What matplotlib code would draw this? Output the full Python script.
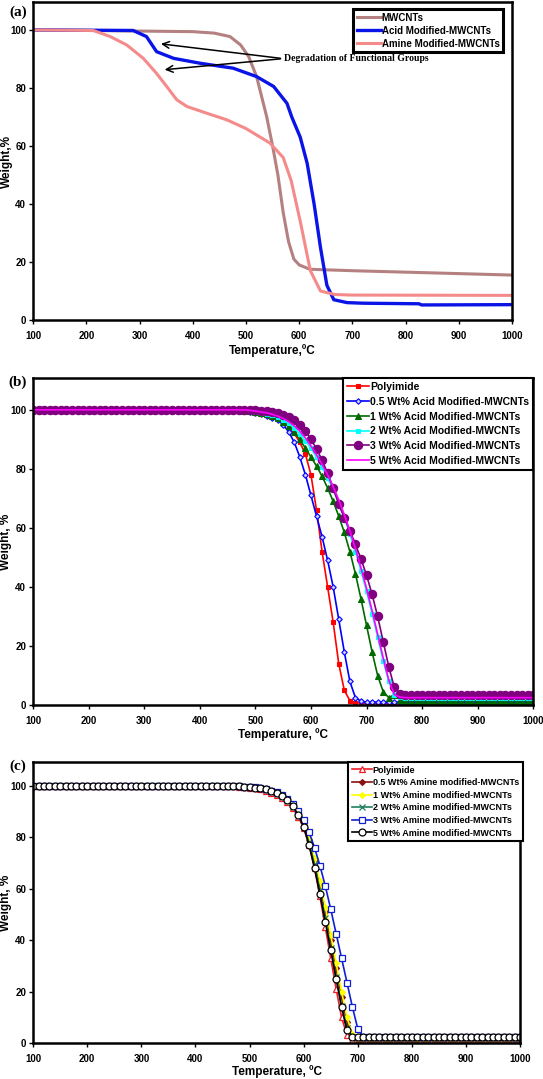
import matplotlib
matplotlib.use('Agg')
import matplotlib.pyplot as plt

plt.rcParams['font.family'] = ['Liberation Sans', 'DejaVu Sans']
plt.rcParams['font.weight'] = 'bold'

# ---------------------------------------------------------------- panel (a)
mwcnt_temp = [100, 400, 440, 470, 490, 505, 520, 539, 550, 560, 570, 580, 590, 600, 620, 700, 800, 900, 1000]
mwcnt_wt = [100, 99.4, 98.9, 97.7, 94.8, 90.8, 83.9, 70, 60, 50, 37, 27, 21, 19, 17.5, 17, 16.5, 16, 15.5]

acid_temp = [100, 288, 313, 332, 364, 414, 476, 520, 552, 577, 586, 602, 615, 628, 640, 652, 665, 690, 720, 825, 830, 1000]
acid_wt = [100, 99.8, 97.7, 92.5, 90.2, 88.5, 86.8, 83.9, 80.5, 74.7, 70, 63, 54, 40, 25, 12, 7, 6, 5.8, 5.6, 5.2, 5.3]

amine_temp = [100, 213, 245, 276, 307, 332, 351, 370, 389, 426, 464, 500, 545, 570, 585, 602, 621, 640, 667, 700, 1000]
amine_wt = [100, 99.8, 97.7, 94.8, 90.2, 85, 80.5, 75.9, 73.6, 71.3, 69, 66, 61, 56, 48, 34, 17, 10, 8.8, 8.6, 8.5]

# ---------------------------------------------------------------- panels (b), (c): one point every 10 C
temp_grid = list(range(100, 1001, 10))

pi_b = [100.0] * 36 + [99.9, 99.8, 99.6, 99.3, 99.0, 98.7, 98.3, 97.8, 97.0, 96.0,
                       94.2, 92.0, 89.0, 85.0, 78.0, 66.0, 52.0, 40.0, 28.0, 14.0,
                       5.0, 1.5, 0.8, 0.6] + [0.5] * 31
acid05_b = [100.0] * 36 + [99.9, 99.8, 99.6, 99.3, 99.0, 98.6, 98.0, 97.4, 96.5, 95.0,
                           92.5, 89.0, 84.0, 78.0, 71.0, 64.0, 57.0, 49.0, 40.0, 29.0,
                           18.0, 8.0, 2.5, 1.3] + [1.0] * 31
acid1_b = [100.0] * 36 + [99.9, 99.8, 99.7, 99.5, 99.2, 98.9, 98.5, 98.0, 97.2, 96.0,
                          94.5, 92.5, 90.0, 87.0, 84.0, 81.0, 77.5, 73.5, 69.0, 64.0,
                          58.5, 52.0, 44.5, 36.0] + [27.0, 18.0, 10.0, 4.5, 2.5, 3.5, 1.8] + [1.5] * 24
acid2_b = [100.0] * 38 + [99.8, 99.6, 99.4, 99.1, 98.7, 98.2, 97.5, 96.6, 95.4, 93.8,
                          91.8, 89.5, 87.0, 84.0, 80.5, 77.0, 73.0, 68.5, 63.5, 58.0,
                          52.0, 45.5, 38.5, 31.0, 23.0, 15.0, 8.0, 3.5, 2.8] + [2.3] * 24
acid3_b = [100.0] * 39 + [99.9, 99.8, 99.7, 99.5, 99.2, 98.9, 98.4, 97.7, 96.6, 95.0,
                          92.8, 90.0, 86.8, 83.0, 78.5, 73.5, 68.0, 63.5, 59.0, 54.5,
                          49.5, 44.0, 37.5, 30.0, 21.5, 13.0, 6.0, 3.8, 3.5] + [3.3] * 23
acid5_b = [100.0] * 39 + [99.8, 99.6, 99.3, 99.0, 98.5, 97.9, 97.1, 96.0, 94.6, 92.8,
                          90.5, 87.8, 84.8, 81.5, 78.0, 74.0, 69.5, 64.5, 59.0, 53.0,
                          46.5, 39.5, 32.0, 24.0, 16.0, 8.5, 3.5, 2.7] + [2.5] * 24

pi_c = [100.0] * 36 + [99.9, 99.8, 99.7, 99.5, 99.3, 99.0, 98.6, 98.1, 97.4, 96.5,
                       95.3, 93.6, 91.3, 88.0, 83.5, 77.0, 68.0, 57.0, 45.0, 33.0,
                       21.0, 10.0, 3.0, 1.2] + [0.8] * 31
amine05_c = [100.0] * 37 + [99.9, 99.8, 99.7, 99.5, 99.3, 99.0, 98.6, 98.0, 97.2, 96.0,
                            94.4, 92.2, 89.2, 85.0, 79.0, 71.0, 61.5, 51.0, 40.0, 29.0,
                            18.0, 8.0, 2.5] + [1.5] * 31
amine1_c = [100.0] * 37 + [99.9, 99.8, 99.7, 99.5, 99.3, 99.0, 98.6, 98.0, 97.2, 96.0,
                           94.4, 92.2, 89.2, 85.0, 79.5, 72.0, 63.0, 53.0, 42.0, 31.0,
                           20.0, 10.0, 3.5] + [1.8] * 31
amine2_c = [100.0] * 37 + [99.9, 99.8, 99.7, 99.5, 99.3, 99.0, 98.6, 98.0, 97.2, 96.0,
                           94.4, 92.2, 89.0, 84.5, 78.0, 69.5, 59.5, 48.5, 37.0, 25.5,
                           14.5, 6.0, 2.2] + [2.0] * 31
amine3_c = [100.0] * 37 + [99.9, 99.8, 99.7, 99.6, 99.4, 99.1, 98.7, 98.2, 97.5, 96.5,
                           95.0, 93.0, 90.3, 86.8, 82.0, 76.0, 69.0, 61.0, 52.0, 42.5,
                           33.0, 23.5, 14.0, 5.5, 2.5] + [2.3] * 29
amine5_c = [100.0] * 37 + [99.9, 99.8, 99.7, 99.5, 99.3, 99.0, 98.6, 98.0, 97.2, 96.0,
                           94.4, 92.0, 88.8, 84.0, 77.0, 68.0, 58.0, 47.0, 36.0, 25.0,
                           14.0, 5.0, 2.5] + [2.3] * 31

x_ticks = list(range(100, 1001, 100))
y_ticks = [0, 20, 40, 60, 80, 100]


def style_axes(ax, ytop, xlabel, ylabel, xlab_y):
    """ common frame / tick look of the three panels """
    ax.set_xlim(100, 1000)
    ax.set_ylim(0, ytop)
    ax.set_xticks(x_ticks)
    ax.set_yticks(y_ticks)
    for s in ax.spines.values():
        s.set_linewidth(1.8)
    ax.tick_params(direction='out', length=3, width=1, labelsize=7, pad=2)
    ax.tick_params(axis='x', pad=5)
    ax.set_xlabel(xlabel, fontsize=8.5, fontweight='bold')
    ax.set_ylabel(ylabel, fontsize=8.5, fontweight='bold')
    ax.xaxis.set_label_coords(0.5, xlab_y)
    ax.yaxis.set_label_coords(-0.043, 0.5)


def frame_legend(leg, lw):
    leg.get_frame().set_edgecolor('black')
    leg.get_frame().set_linewidth(lw)


fig = plt.figure(figsize=(5.43, 10.79), dpi=100)

# (a) raw and modified nanotubes
ax_a = fig.add_axes([0.061, 0.7034, 0.882, 0.2947])
ax_a.plot(mwcnt_temp, mwcnt_wt, color='#b58080', lw=2.2, label='MWCNTs')
ax_a.plot(acid_temp, acid_wt, color='#0a14e6', lw=2.4, label='Acid Modified-MWCNTs')
ax_a.plot(amine_temp, amine_wt, color='#f58a8a', lw=2.2, label='Amine Modified-MWCNTs')
style_axes(ax_a, 109.6, 'Temperature,\u00baC', 'Weight,%', -0.075)
leg = ax_a.legend(loc='upper right', bbox_to_anchor=(0.992, 0.994), fontsize=7, handlelength=2.4,
                  handletextpad=0.1, labelspacing=0.3, borderpad=0.4, fancybox=False, framealpha=1)
frame_legend(leg, 2.2)
for head in [(335, 95.3), (342, 86.2)]:
    ax_a.annotate('', xy=head, xytext=(570, 90.1),
                  arrowprops=dict(arrowstyle='->', color='black', lw=1.1, mutation_scale=12))
ax_a.text(572, 90.1, 'Degradation of Functional Groups', family='Liberation Serif',
          fontsize=7, fontweight='bold', va='center', ha='left')

# (b) acid modified nanotubes in polyimide
ax_b = fig.add_axes([0.061, 0.3466, 0.921, 0.3031])
series_b = [
    (pi_b, 'Polyimide', '#ff0000', 's', 3.2, '#ff0000'),
    (acid05_b, '0.5 Wt% Acid Modified-MWCNTs', '#0000ff', 'D', 2.8, '#ccccff'),
    (acid1_b, '1 Wt% Acid Modified-MWCNTs', '#006a00', '^', 4.0, '#006a00'),
    (acid2_b, '2 Wt% Acid Modified-MWCNTs', '#00ffff', 's', 3.2, '#00ffff'),
    (acid3_b, '3 Wt% Acid Modified-MWCNTs', '#800080', 'o', 6.0, '#800080'),
    (acid5_b, '5 Wt% Acid Modified-MWCNTs', '#ff00ff', None, 0, '#ff00ff'),
]
for vals, lab, col, mk, ms, fc in series_b:
    ax_b.plot(temp_grid, vals, color=col, lw=1.2, marker=mk, markersize=ms,
              markerfacecolor=fc, markeredgecolor=col, markeredgewidth=0.8, label=lab)
style_axes(ax_b, 110.8, 'Temperature, \u00baC', 'Weight, %', -0.07)
leg = ax_b.legend(loc='upper right', bbox_to_anchor=(1.0, 1.0), borderaxespad=0, fontsize=7.5,
                  handlelength=2.1, handletextpad=0.1, labelspacing=0.45, borderpad=0.4,
                  fancybox=False, framealpha=1)
frame_legend(leg, 1.5)

# (c) amine modified nanotubes in polyimide
ax_c = fig.add_axes([0.061, 0.0334, 0.8969, 0.2604])
series_c = [
    (pi_c, 'Polyimide', '#ee1c24', '^', 4.2, 'white'),
    (amine05_c, '0.5 Wt% Amine modified-MWCNTs', '#8b1010', 'D', 3.0, '#8b1010'),
    (amine1_c, '1 Wt% Amine modified-MWCNTs', '#ffff00', 'D', 3.0, '#ffff00'),
    (amine2_c, '2 Wt% Amine modified-MWCNTs', '#1f7f5f', 'x', 4.0, '#1f7f5f'),
    (amine3_c, '3 Wt% Amine modified-MWCNTs', '#1020d0', 's', 5.0, 'white'),
    (amine5_c, '5 Wt% Amine modified-MWCNTs', '#000000', 'o', 5.0, 'white'),
]
for vals, lab, col, mk, ms, fc in series_c:
    ax_c.plot(temp_grid, vals, color=col, lw=1.2, marker=mk, markersize=ms,
              markerfacecolor=fc, markeredgecolor=col, markeredgewidth=0.9, label=lab)
style_axes(ax_c, 109.3, 'Temperature, \u00baC', 'Weight, %', -0.078)
leg = ax_c.legend(loc='upper right', bbox_to_anchor=(1.005, 1.0), borderaxespad=0, fontsize=6.5,
                  handlelength=2.2, handletextpad=0.1, labelspacing=0.4, borderpad=0.4,
                  fancybox=False, framealpha=1)
frame_legend(leg, 1.5)

# panel tags
for tag, ypix in [('(a)', 12), ('(b)', 382), ('(c)', 766)]:
    fig.text(18 / 543, 1 - ypix / 1079, tag, family='Liberation Serif', fontsize=11,
             fontweight='bold', ha='center', va='center')

fig.savefig('out.png', dpi=100)
